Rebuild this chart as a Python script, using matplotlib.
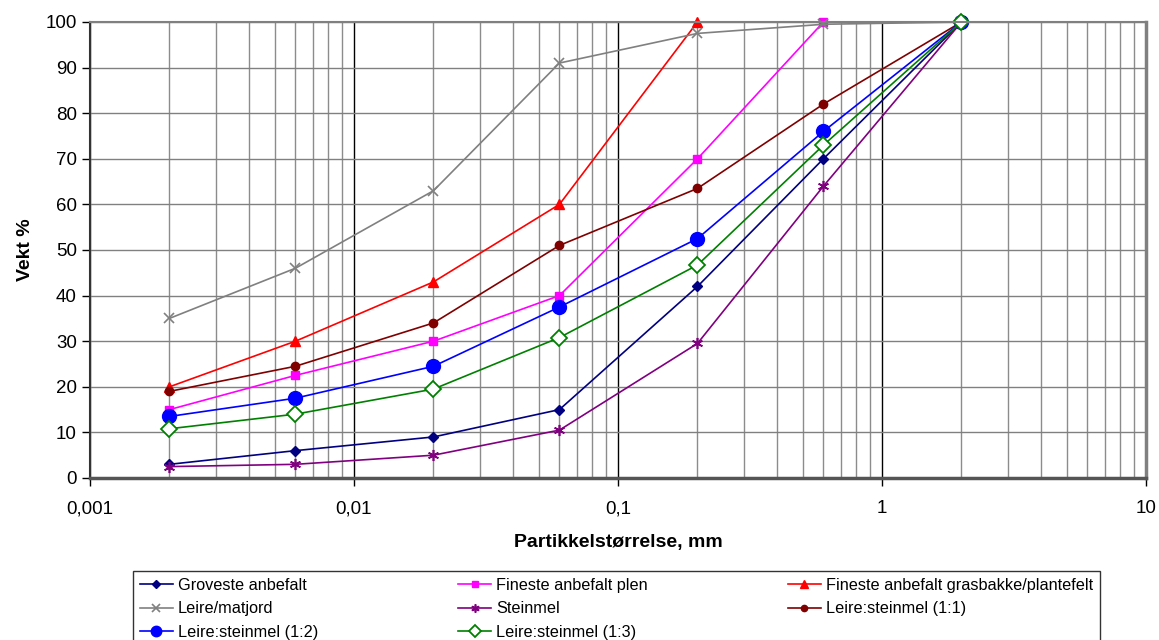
import matplotlib
matplotlib.use("Agg")
import matplotlib.pyplot as plt
from matplotlib.ticker import FixedLocator, FixedFormatter, LogLocator, NullFormatter

plt.rcParams['font.family'] = ['Liberation Sans', 'DejaVu Sans']

sizes = [0.002, 0.006, 0.02, 0.06, 0.2, 0.6, 2]

groveste = [3, 6, 9, 15, 42, 70, 100]
fineste_plen = [15, 22.5, 30, 40, 70, 100]
fineste_gras = [20, 30, 43, 60, 100]
leire_matjord = [35, 46, 63, 91, 97.5, 99.5, 100]
steinmel = [2.5, 3, 5, 10.5, 29.5, 64, 100]
ls_11 = [19, 24.5, 34, 51, 63.5, 82, 100]
ls_12 = [13.5, 17.5, 24.5, 37.5, 52.5, 76, 100]
ls_13 = [10.8, 14, 19.5, 30.8, 46.7, 73, 100]

labels = ["Groveste anbefalt", "Fineste anbefalt plen", "Fineste anbefalt grasbakke/plantefelt",
          "Leire/matjord", "Steinmel", "Leire:steinmel (1:1)",
          "Leire:steinmel (1:2)", "Leire:steinmel (1:3)"]

xtick_vals = [0.001, 0.01, 0.1, 1, 10]
xtick_labels = ["0,001", "0,01", "0,1", "1", "10"]
ytick_vals = list(range(0, 101, 10))

fig = plt.figure(figsize=(11.59, 6.4), dpi=100)
ax = fig.add_axes([90/1159, 1-478/640, (1146-90)/1159, (478-22)/640])

ax.set_xscale('log')
ax.set_xlim(0.001, 10)
ax.set_ylim(0, 100)

# grid
ax.xaxis.set_major_locator(FixedLocator(xtick_vals))
ax.xaxis.set_major_formatter(FixedFormatter(xtick_labels))
ax.xaxis.set_minor_locator(LogLocator(base=10, subs=range(2, 10), numticks=50))
ax.xaxis.set_minor_formatter(NullFormatter())
ax.yaxis.set_major_locator(FixedLocator(ytick_vals))
ax.grid(True, which='major', axis='x', color='black', lw=1.0, zorder=0)
ax.grid(True, which='minor', axis='x', color='#8c8c8c', lw=1.0, zorder=0)
ax.grid(True, which='major', axis='y', color='#808080', lw=1.0, zorder=0)
ax.set_axisbelow(True)

lw = 1.2
h = []
h += ax.plot(sizes[:len(groveste)], groveste, color='#000080', marker='D', ms=5, lw=lw)
h += ax.plot(sizes[:len(fineste_plen)], fineste_plen, color='#FF00FF', marker='s', ms=6, lw=lw)
h += ax.plot(sizes[:len(fineste_gras)], fineste_gras, color='#FF0000', marker='^', ms=7, lw=lw)
h += ax.plot(sizes[:len(leire_matjord)], leire_matjord, color='#808080', marker='x', ms=7, mew=1.2, lw=lw)
h += ax.plot(sizes[:len(steinmel)], steinmel, color='#800080', marker=(6, 2, 0), ms=8, mew=1.2, lw=lw)
h += ax.plot(sizes[:len(ls_11)], ls_11, color='#800000', marker='o', ms=6, lw=lw)
h += ax.plot(sizes[:len(ls_12)], ls_12, color='#0000FF', marker='o', ms=10, lw=lw)
h += ax.plot(sizes[:len(ls_13)], ls_13, color='#008000', marker='D', ms=8, mfc='white', mew=1.3, lw=lw)
for line in h:
    line.set_clip_on(False)

for s in ['top', 'right']:
    ax.spines[s].set_color('#808080')
    ax.spines[s].set_linewidth(1.5)
ax.spines['right'].set_linewidth(2.5)
ax.spines['bottom'].set_color('#555555')
ax.spines['bottom'].set_linewidth(2.5)
ax.spines['left'].set_color('#333333')
ax.spines['left'].set_linewidth(1.5)

ax.tick_params(axis='both', which='major', direction='out', length=6, width=1, labelsize=13.5, colors='black')
ax.tick_params(axis='x', which='major', pad=10)
ax.tick_params(axis='x', which='minor', length=0)

ax.set_xlabel("Partikkelstørrelse, mm", fontsize=14, fontweight='bold', labelpad=12)
ax.set_ylabel("Vekt %", fontsize=14, fontweight='bold', labelpad=8)

# legend: row-major order like the reference (matplotlib fills column-wise)
order = [0, 3, 6, 1, 4, 7, 2, 5]
leg = fig.legend([h[i] for i in order], [labels[i] for i in order], ncol=3, loc='upper left',
                 bbox_to_anchor=(133/1159, 1-571/640),
                 fontsize=11.7, frameon=True, fancybox=False,
                 edgecolor='black', handlelength=2.05, handletextpad=0.3,
                 columnspacing=8.6,
                 borderpad=0.42, labelspacing=0.52, borderaxespad=0, markerscale=0.75)
leg.get_frame().set_linewidth(1.0)

fig.savefig("out.png", dpi=100)
